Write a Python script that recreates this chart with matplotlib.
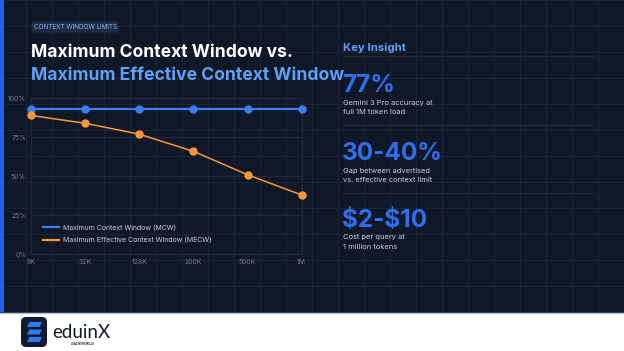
import matplotlib
matplotlib.use("Agg")
import matplotlib.pyplot as plt
from matplotlib.patches import FancyBboxPatch, Rectangle, Polygon

# ---- data ----
categories = ["8K", "32K", "128K", "200K", "500K", "1M"]
mcw_values = [93, 93, 93, 93, 93, 93]
mecw_values = [89, 84, 77, 66, 51, 38]
y_ticks = [0, 25, 50, 75, 100]
y_tick_labels = ["0%", "25%", "50%", "75%", "100%"]
series_labels = ["Maximum Context Window (MCW)", "Maximum Effective Context Window (MECW)"]
insight_values = ["77%", "30-40%", "$2-$10"]
insight_texts = ["Gemini 3 Pro accuracy at\nfull 1M token load",
                 "Gap between advertised\nvs. effective context limit",
                 "Cost per query at\n1 million tokens"]

BG = "#101828"
GRID = "#1a2438"
BLUE = "#3b7ff0"
LIGHTBLUE = "#5fa0f5"
ORANGE = "#f7973a"
FONT = "Inter"

W, H = 624, 351
fig = plt.figure(figsize=(W / 100, H / 100), dpi=100)
fig.patch.set_facecolor("white")

bg = fig.add_axes([0, 0, 1, 1])
bg.set_xlim(0, W)
bg.set_ylim(H, 0)
bg.axis("off")

DARK_H = 312
bg.add_patch(Rectangle((0, 0), W, DARK_H, facecolor=BG, edgecolor="none", zorder=0))
for gx in range(0, W + 1, 26):
    bg.plot([gx, gx], [0, DARK_H], color=GRID, lw=0.8, zorder=1)
for gy in range(0, DARK_H + 1, 26):
    bg.plot([0, W], [gy, gy], color=GRID, lw=0.8, zorder=1)
bg.add_patch(Rectangle((0, 0), 3.5, DARK_H, facecolor="#2563eb", edgecolor="none", zorder=2))
bg.plot([0, W], [DARK_H + 0.5, DARK_H + 0.5], color="#b8c4d6", lw=1, zorder=2)

# tag
bg.add_patch(FancyBboxPatch((32, 21.5), 87, 11, boxstyle="round,pad=0,rounding_size=2.5",
                            facecolor="#1d2a45", edgecolor="none", zorder=3))
bg.text(75.5, 27.3, "CONTEXT WINDOW LIMITS", color="#8fb3ea", fontsize=4.6,
        family=FONT, ha="center", va="center", zorder=4)

# title
bg.text(31, 57, "Maximum Context Window vs.", color="white", fontsize=12.6,
        family=FONT, fontweight="bold", ha="left", va="baseline", zorder=4)
bg.text(31, 80, "Maximum Effective Context Window", color=LIGHTBLUE, fontsize=12.6,
        family=FONT, fontweight="bold", ha="left", va="baseline", zorder=4)

# insights
bg.text(343, 51, "Key Insight", color=LIGHTBLUE, fontsize=8.2, family=FONT,
        fontweight="bold", ha="left", va="baseline", zorder=4)
for sy in [56, 125, 193]:
    bg.plot([343, 593], [sy, sy], color="#1f2a40", lw=0.9, zorder=3)
big_y = [92, 160, 227]
for val, txt, by in zip(insight_values, insight_texts, big_y):
    bg.text(342, by, val, color="#2f6fec", fontsize=17.5, family=FONT,
            fontweight="bold", ha="left", va="baseline", zorder=4, parse_math=False)
    bg.text(343, by + 7.5, txt, color="#c9d1dc", fontsize=5.4, family=FONT,
            ha="left", va="top", linespacing=1.65, zorder=4)

# logo
bg.add_patch(FancyBboxPatch((21, 317), 26, 30, boxstyle="round,pad=0,rounding_size=5",
                            facecolor="#111a2e", edgecolor="none", zorder=3))
for i in range(3):
    y0 = 322 + i * 7.5
    bg.add_patch(Polygon([[27, y0 + 5], [39.5, y0 + 5], [42, y0], [29.5, y0]],
                         closed=True, facecolor="#2f7cf6", edgecolor="none", zorder=4))
bg.text(52, 338, "eduinX", color="#141a2a", fontsize=13.5, family="Lato",
        ha="left", va="baseline", zorder=4)
bg.text(82, 344, "LEAD WITH SKILLS", color="#141a2a", fontsize=1.8, family=FONT,
        fontweight="bold", ha="center", va="center", zorder=4)

# chart
left, right = 31 / W, 301.7 / W
bottom, top = (H - 254.3) / H, (H - 98.3) / H
ax = fig.add_axes([left, bottom, right - left, top - bottom])
ax.set_facecolor("none")
x = list(range(len(categories)))
ax.plot(x, mcw_values, color=BLUE, lw=1.6, marker="o", ms=5, clip_on=False,
        label=series_labels[0], zorder=5)
ax.plot(x, mecw_values, color=ORANGE, lw=1.1, marker="o", ms=5, clip_on=False,
        label=series_labels[1], zorder=5)
ax.set_xlim(0, len(categories) - 1)
ax.set_ylim(0, 100)
ax.set_xticks(x)
ax.set_xticklabels(categories)
ax.set_yticks(y_ticks)
ax.set_yticklabels(y_tick_labels)
ax.tick_params(length=0, colors="#6b7a92", labelsize=5, pad=3.5)
for lab in ax.get_xticklabels() + ax.get_yticklabels():
    lab.set_family(FONT)
ax.grid(axis="y", color="#1f2a3e", lw=0.9)
ax.spines["top"].set_visible(False)
for s in ["left", "right", "bottom"]:
    ax.spines[s].set_color("#1f2a3e")
    ax.spines[s].set_linewidth(0.9)
leg = ax.legend(loc="lower left", bbox_to_anchor=(0.02, 0.03), frameon=False,
                prop={"family": FONT, "size": 5}, labelcolor="#c9d1dc",
                handlelength=2.3, handletextpad=0.7, labelspacing=0.9)
for h in leg.legend_handles:
    h.set_marker("")
    h.set_linewidth(1.6)

fig.savefig("out.png", dpi=100, facecolor=fig.get_facecolor())
